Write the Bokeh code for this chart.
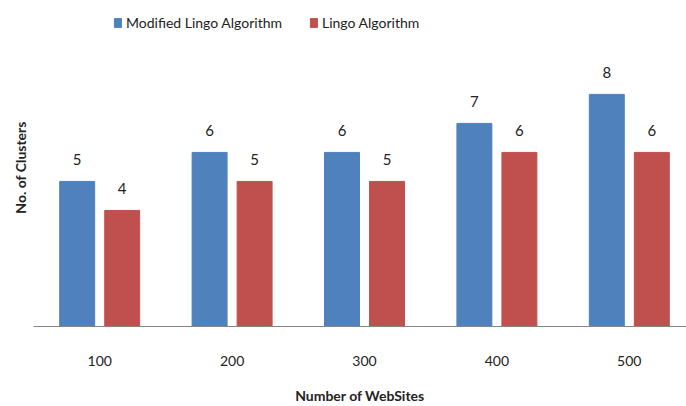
from bokeh.plotting import figure
from bokeh.models import ColumnDataSource, Range1d, FixedTicker, LabelSet
from bokeh.transform import dodge
from bokeh.core.properties import value
from bokeh.embed import file_html
from bokeh.resources import INLINE

websites = ["100", "200", "300", "400", "500"]
modified_lingo = [5, 6, 6, 7, 8]
lingo = [4, 5, 5, 6, 6]

idx = list(range(len(websites)))
src = ColumnDataSource(dict(idx=idx, modified=modified_lingo, lingo=lingo))

FONT = "Lato"
BLUE = "#4F81BD"
RED = "#C0504D"
TXT = "#222222"

p = figure(width=686, height=406, output_backend="svg", toolbar_location=None,
           x_range=Range1d(-0.5, 4.432), y_range=Range1d(0, 10.96),
           min_border_left=33, min_border_right=0, min_border_top=8, min_border_bottom=80)
p.outline_line_color = None
p.grid.visible = False

p.vbar(x=dodge("idx", -0.17, range=p.x_range), top="modified", width=0.264, source=src,
       color=BLUE, legend_label="Modified Lingo Algorithm")
p.vbar(x=dodge("idx", 0.17, range=p.x_range), top="lingo", width=0.264, source=src,
       color=RED, legend_label="Lingo Algorithm")

for col, off in (("modified", -0.17), ("lingo", 0.17)):
    p.add_layout(LabelSet(x=dodge("idx", off, range=p.x_range), y=col, text=col, source=src,
                          y_offset=16, text_align="center", text_baseline="alphabetic",
                          text_font=value(FONT), text_font_size="15px", text_color=TXT))

xa = p.xaxis[0]
xa.ticker = FixedTicker(ticks=idx)
xa.major_label_overrides = {i: w for i, w in zip(idx, websites)}
xa.major_tick_line_color = None
xa.minor_tick_line_color = None
xa.axis_line_color = "#868686"
xa.major_label_standoff = 23
xa.major_label_text_font = FONT
xa.major_label_text_font_size = "14px"
xa.major_label_text_color = TXT
xa.major_label_text_line_height = 1.0
xa.axis_label = "Number of WebSites"
xa.axis_label_text_font = FONT
xa.axis_label_text_font_size = "14px"
xa.axis_label_text_font_style = "bold"
xa.axis_label_text_color = TXT
xa.axis_label_text_line_height = 1.0
xa.axis_label_standoff = 18

ya = p.yaxis[0]
ya.ticker = FixedTicker(ticks=[])
ya.axis_line_color = None
ya.major_tick_line_color = None
ya.minor_tick_line_color = None
ya.major_label_standoff = 0
ya.axis_label = "No. of Clusters"
ya.axis_label_text_font = FONT
ya.axis_label_text_font_size = "14px"
ya.axis_label_text_font_style = "bold"
ya.axis_label_text_color = TXT
ya.axis_label_standoff = 5

lg = p.legend[0]
lg.orientation = "horizontal"
lg.location = (80, 295)
lg.border_line_color = None
lg.background_fill_alpha = 0
lg.padding = 0
lg.margin = 0
lg.spacing = 27
lg.glyph_width = 9
lg.glyph_height = 11
lg.label_standoff = 4
lg.label_text_font = FONT
lg.label_text_font_size = "14px"
lg.label_text_color = TXT

open("out.html", "w").write(file_html(p, INLINE))
